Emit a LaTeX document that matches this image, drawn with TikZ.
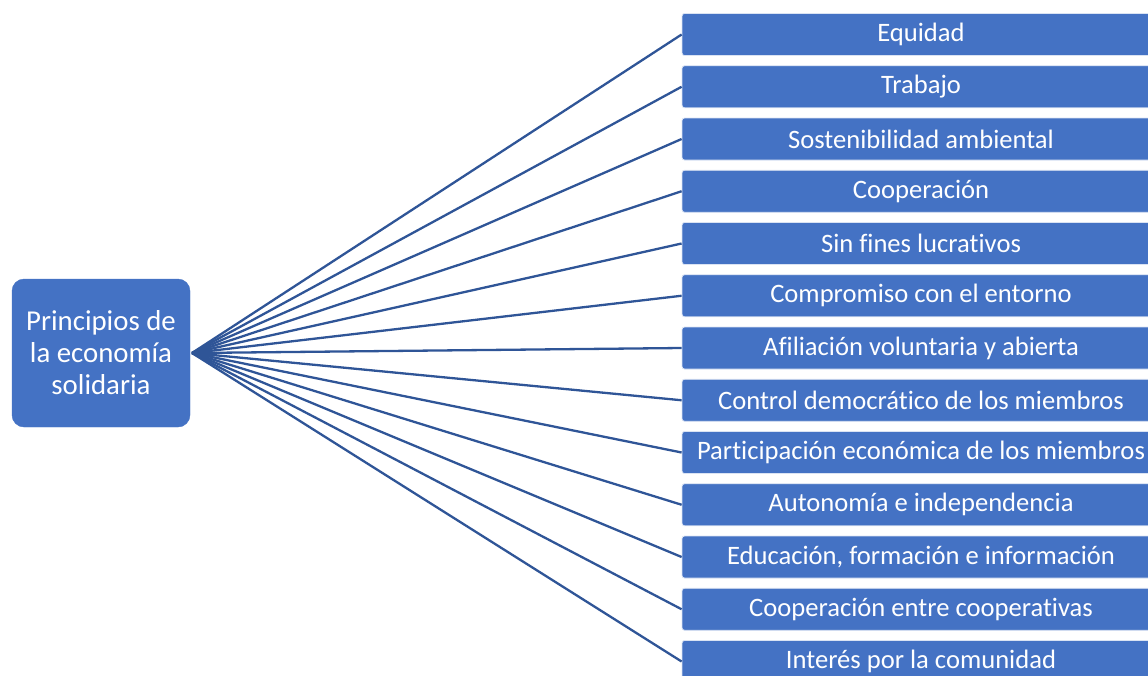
\documentclass[tikz,border=0pt]{standalone}
\usepackage{fontspec}
\setmainfont{Carlito}[Ligatures=NoCommon]
\usepackage{xcolor}
\usepackage{tikz}
\usetikzlibrary{positioning}

\definecolor{boxblue}{HTML}{4472C4}
\definecolor{lineblue}{HTML}{2F5597}

\tikzset{
    hub/.style={fill=boxblue, draw=boxblue, rounded corners=12pt, text=white,
        minimum width=178pt, minimum height=148pt, align=center,
        font=\fontsize{28.8}{32}\selectfont},
    item/.style={fill=boxblue, draw=white!80!boxblue, line width=0.8pt, rounded corners=2.5pt,
        text=white, minimum width=478pt, minimum height=42pt, inner sep=0pt,
        font=\fontsize{26.6}{30}\selectfont},
    link/.style={draw=lineblue, line width=2.3pt}
}

\begin{document}
\begin{tikzpicture}[x=1pt, y=-1pt]
        \useasboundingbox (0,0) rectangle (1148,675);
        \node [hub] (hub) at (101, 353) {Principios de\\la economía\\solidaria};
        \coordinate (tip) at (192, 353);

        \node [item] (equidad) at (921, 34.5) {Equidad};
        \node [item] (trabajo) at (921, 86.75) {Trabajo};
        \node [item] (ambiente) at (921, 139) {Sostenibilidad ambiental};
        \node [item] (cooper) at (921, 191.25) {Cooperación};
        \node [item] (lucro) at (921, 243.5) {Sin fines lucrativos};
        \node [item] (entorno) at (921, 295.75) {Compromiso con el entorno};
        \node [item] (afiliacion) at (921, 348) {Afiliación voluntaria y abierta};
        \node [item] (control) at (921, 400.25) {Control democrático de los miembros};
        \node [item] (particip) at (921, 452.5) {Participación económica de los miembros};
        \node [item] (autonomia) at (921, 504.75) {Autonomía e independencia};
        \node [item] (educacion) at (921, 557) {Educación, formación e información};
        \node [item] (entrecoop) at (921, 609.25) {Cooperación entre cooperativas};
        \node [item] (comunidad) at (921, 661.5) {Interés por la comunidad};

        \draw [link] (tip) -- (equidad.west);
        \draw [link] (tip) -- (trabajo.west);
        \draw [link] (tip) -- (ambiente.west);
        \draw [link] (tip) -- (cooper.west);
        \draw [link] (tip) -- (lucro.west);
        \draw [link] (tip) -- (entorno.west);
        \draw [link] (tip) -- (afiliacion.west);
        \draw [link] (tip) -- (control.west);
        \draw [link] (tip) -- (particip.west);
        \draw [link] (tip) -- (autonomia.west);
        \draw [link] (tip) -- (educacion.west);
        \draw [link] (tip) -- (entrecoop.west);
        \draw [link] (tip) -- (comunidad.west);
    \end{tikzpicture}
\end{document}
